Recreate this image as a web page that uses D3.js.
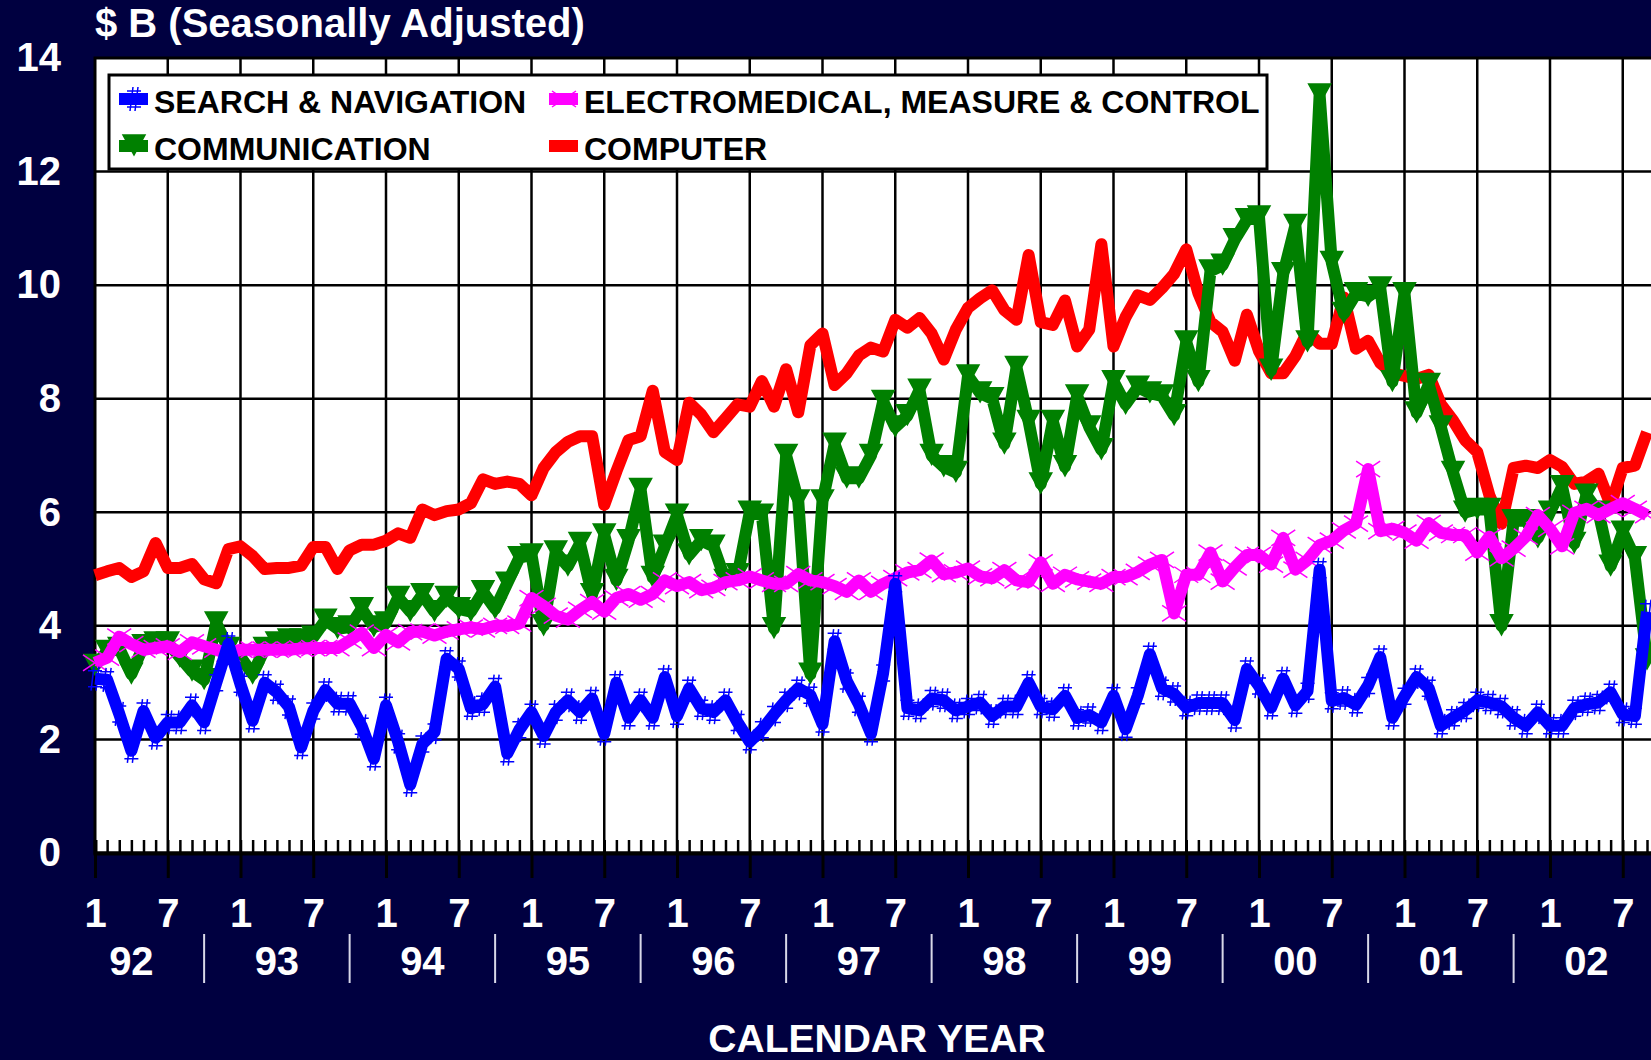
<!DOCTYPE html>
<html>
<head>
<meta charset="utf-8">
<script src="https://cdn.jsdelivr.net/npm/d3@7/dist/d3.min.js"></script>
<style>
    body { margin: 0; background: #000040; overflow: hidden; }
    text { font-family: "Liberation Sans", Arial, sans-serif; font-weight: bold; }
</style>
</head>
<body>
<div class="vis-chart"></div>
<script>
// monthly values, Jan 1992 .. Sep 2002 ($ B)
const searchNav = [3.07, 3.05, 2.45, 1.8, 2.5, 2.03, 2.3, 2.3, 2.6, 2.3, 3.0, 3.68, 2.97, 2.33, 3.0, 2.83, 2.57, 1.86, 2.5, 2.87, 2.63, 2.63, 2.23, 1.66, 2.6, 1.96, 1.2,
    1.92, 2.13, 3.42, 3.24, 2.55, 2.62, 2.93, 1.75, 2.17, 2.48, 2.06, 2.48, 2.69, 2.48, 2.72, 2.1, 3.0, 2.38, 2.69, 2.38, 3.1, 2.41, 2.9, 2.55, 2.48, 2.69, 2.3,
    1.96, 2.17, 2.44, 2.69, 2.9, 2.78, 2.27, 3.73, 3.03, 2.62, 2.1, 3.17, 4.74, 2.55, 2.51, 2.72, 2.69, 2.51, 2.58, 2.65, 2.41, 2.58, 2.58, 3.0, 2.58, 2.53,
    2.77, 2.38, 2.43, 2.3, 2.77, 2.18, 2.77, 3.5, 2.9, 2.8, 2.56, 2.64, 2.64, 2.64, 2.34, 3.24, 2.94, 2.56, 3.07, 2.6, 2.85, 4.99, 2.68, 2.73, 2.61, 2.95,
    3.45, 2.38, 2.76, 3.1, 2.9, 2.24, 2.38, 2.51, 2.69, 2.65, 2.58, 2.38, 2.24, 2.48, 2.24, 2.24, 2.55, 2.62, 2.65, 2.83, 2.44, 2.41, 4.25]
const electroMed = [3.35, 3.44, 3.81, 3.68, 3.58, 3.61, 3.64, 3.54, 3.71, 3.64, 3.58, 3.51, 3.58, 3.58, 3.58, 3.58, 3.58, 3.6, 3.61, 3.61, 3.61, 3.74, 3.88, 3.61, 3.84, 3.71, 3.89,
    3.9, 3.83, 3.9, 3.94, 3.97, 3.94, 4.0, 4.0, 4.04, 4.49, 4.35, 4.18, 4.11, 4.28, 4.42, 4.25, 4.49, 4.56, 4.46, 4.56, 4.8, 4.7, 4.77, 4.63, 4.67, 4.77, 4.8,
    4.87, 4.8, 4.74, 4.74, 4.91, 4.8, 4.77, 4.7, 4.6, 4.8, 4.6, 4.74, 4.84, 4.94, 4.98, 5.15, 4.91, 4.94, 5.01, 4.87, 4.84, 4.98, 4.8, 4.77, 5.12, 4.74,
    4.9, 4.82, 4.78, 4.74, 4.86, 4.86, 4.95, 5.08, 5.16, 4.22, 4.9, 4.9, 5.29, 4.78, 5.03, 5.25, 5.25, 5.08, 5.55, 4.99, 5.16, 5.42, 5.5, 5.68, 5.8, 6.76,
    5.67, 5.71, 5.64, 5.5, 5.81, 5.64, 5.6, 5.6, 5.29, 5.57, 5.19, 5.36, 5.57, 5.95, 5.71, 5.4, 5.99, 6.06, 5.95, 6.06, 6.16, 6.06, 5.95]
const communication = [3.3, 3.55, 3.6, 3.15, 3.65, 3.7, 3.7, 3.45, 3.2, 3.05, 4.05, 3.6, 3.45, 3.15, 3.6, 3.7, 3.75, 3.75, 3.8, 4.1, 3.95, 3.98, 4.3, 3.98, 4.05, 4.5, 4.25,
    4.55, 4.25, 4.5, 4.3, 4.25, 4.6, 4.3, 4.75, 5.2, 5.25, 4.0, 5.3, 5.05, 5.45, 4.55, 5.6, 4.8, 5.5, 6.4, 4.85, 5.4, 5.95, 5.25, 5.5, 5.4, 4.8, 4.9,
    6.0, 5.95, 3.95, 7.0, 6.2, 3.15, 6.2, 7.2, 6.6, 6.6, 7.0, 7.95, 7.5, 7.7, 8.15, 7.0, 6.8, 6.7, 8.4, 8.1, 8.0, 7.2, 8.55, 7.6, 6.5, 7.6,
    6.8, 8.05, 7.5, 7.1, 8.3, 7.9, 8.2, 8.1, 8.05, 7.7, 9.0, 8.3, 10.25, 10.35, 10.8, 11.15, 11.2, 8.5, 10.2, 11.05, 9.0, 13.35, 10.4, 9.5, 9.85, 9.8,
    9.95, 8.3, 9.85, 7.75, 8.25, 7.5, 6.7, 6.0, 6.05, 6.05, 4.0, 5.85, 5.85, 5.55, 6.0, 6.45, 5.45, 6.3, 6.0, 5.05, 5.65, 5.2, 3.4]
const computer = [4.89, 4.96, 5.02, 4.86, 4.96, 5.46, 5.02, 5.02, 5.09, 4.82, 4.75, 5.35, 5.4, 5.23, 5.0, 5.02, 5.02, 5.06, 5.39, 5.39, 5.0, 5.33, 5.43, 5.43, 5.5, 5.63, 5.55,
    6.05, 5.95, 6.02, 6.05, 6.16, 6.58, 6.5, 6.54, 6.5, 6.3, 6.78, 7.06, 7.24, 7.34, 7.34, 6.13, 6.72, 7.27, 7.34, 8.14, 7.06, 6.92, 7.93, 7.72, 7.41, 7.65, 7.9,
    7.86, 8.31, 7.86, 8.52, 7.76, 8.94, 9.15, 8.24, 8.45, 8.76, 8.9, 8.83, 9.39, 9.25, 9.42, 9.15, 8.69, 9.22, 9.6, 9.77, 9.91, 9.56, 9.39, 10.53, 9.35, 9.3,
    9.73, 8.92, 9.22, 10.72, 8.92, 9.44, 9.82, 9.74, 9.95, 10.2, 10.63, 9.86, 9.35, 9.18, 8.67, 9.48, 8.84, 8.45, 8.45, 8.75, 9.18, 8.97, 8.97, 9.78, 8.88, 9.02,
    8.63, 8.45, 8.4, 8.35, 8.42, 7.9, 7.62, 7.27, 7.06, 6.3, 5.8, 6.78, 6.82, 6.78, 6.92, 6.8, 6.5, 6.54, 6.68, 6.13, 6.78, 6.82, 7.41]

const yearLabels = ['92', '93', '94', '95', '96', '97', '98', '99', '00', '01', '02']
const monthLabels = ['1', '7']
const yTicks = [0, 2, 4, 6, 8, 10, 12, 14]
const seriesNames = ['SEARCH & NAVIGATION', 'ELECTROMEDICAL, MEASURE & CONTROL', 'COMMUNICATION', 'COMPUTER']

const dimensions = {
    width: 1651,
    height: 1060,
    left: 95,
    top: 58,
    bottom: 853,
    monthWidth: 12.125
}

const series = [
    { name: seriesNames[3], values: computer, color: '#ff0000', marker: 'none' },
    { name: seriesNames[2], values: communication, color: '#008000', marker: 'tri' },
    { name: seriesNames[1], values: electroMed, color: '#ff00ff', marker: 'x' },
    { name: seriesNames[0], values: searchNav, color: '#0000ff', marker: 'hash' }
]

let visChart = d3.select('.vis-chart').append('svg')
    .attr('width', dimensions.width)
    .attr('height', dimensions.height)
    .style('background-color', '#000040')
    .style('display', 'block')

let xScale = d3.scaleLinear()
    .domain([0, 130])
    .range([dimensions.left, dimensions.left + 130 * dimensions.monthWidth])
let yScale = d3.scaleLinear()
    .domain([0, 14])
    .range([dimensions.bottom, dimensions.top])

drawFrame()
drawAxis()
drawPlot()
drawLegend()
addTexts()

/******** plot area + grid ********/
function drawFrame() {
    visChart.append('rect')
        .attr('x', xScale(0))
        .attr('y', yScale(14))
        .attr('width', xScale(130) - xScale(0))
        .attr('height', yScale(0) - yScale(14))
        .attr('fill', '#ffffff')
        .attr('stroke', '#000')
        .attr('stroke-width', 3)

    visChart.append('g').selectAll('line')
        .data(yTicks.filter(d => d > 0 && d < 14))
        .enter().append('line')
        .attr('x1', xScale(0)).attr('x2', xScale(130))
        .attr('y1', d => yScale(d)).attr('y2', d => yScale(d))
        .attr('stroke', '#000').attr('stroke-width', 2.5)

    visChart.append('g').selectAll('line')
        .data(d3.range(6, 130, 6))
        .enter().append('line')
        .attr('x1', d => xScale(d)).attr('x2', d => xScale(d))
        .attr('y1', yScale(14)).attr('y2', yScale(0))
        .attr('stroke', '#000').attr('stroke-width', 2.5)
}

/******** axes ********/
function drawAxis() {
    let minorAxis = d3.axisTop(xScale)
        .tickValues(d3.range(0, 130))
        .tickSize(13)
        .tickFormat('')
    visChart.append('g')
        .attr('transform', 'translate(0,' + dimensions.bottom + ')')
        .call(minorAxis)
        .call(g => g.select('.domain').attr('stroke-width', 4))
        .call(g => g.selectAll('.tick line').attr('stroke', '#000').attr('stroke-width', 2.5))

    let majorAxis = d3.axisBottom(xScale)
        .tickValues(d3.range(0, 130, 6))
        .tickSize(25)
        .tickPadding(21)
        .tickFormat((d, i) => monthLabels[i % 2])
    visChart.append('g')
        .attr('transform', 'translate(0,' + dimensions.bottom + ')')
        .call(majorAxis)
        .call(g => g.select('.domain').remove())
        .call(g => g.selectAll('.tick line').attr('stroke', '#000').attr('stroke-width', 3))
        .call(g => g.selectAll('.tick text').attr('fill', '#fff').style('font-size', '40px')
            .style('font-family', '"Liberation Sans", Arial, sans-serif').style('font-weight', 'bold'))

    let yAxis = d3.axisLeft(yScale)
        .tickValues(yTicks)
        .tickSize(0)
        .tickPadding(34)
    visChart.append('g')
        .attr('transform', 'translate(' + dimensions.left + ',0)')
        .call(yAxis)
        .call(g => g.select('.domain').remove())
        .call(g => g.selectAll('.tick text').attr('fill', '#fff').style('font-size', '40px')
            .style('font-family', '"Liberation Sans", Arial, sans-serif').style('font-weight', 'bold'))

    // year row
    visChart.append('g').selectAll('text')
        .data(yearLabels)
        .enter().append('text')
        .attr('x', (d, i) => xScale(i * 12 + 3))
        .attr('y', 975)
        .attr('text-anchor', 'middle')
        .attr('fill', '#fff')
        .style('font-size', '40px')
        .text(d => d)

    visChart.append('g').selectAll('line')
        .data(d3.range(1, yearLabels.length))
        .enter().append('line')
        .attr('x1', d => xScale(d * 12 - 3)).attr('x2', d => xScale(d * 12 - 3))
        .attr('y1', 934).attr('y2', 983)
        .attr('stroke', '#d8d8e8').attr('stroke-width', 2)
}

/******** markers ********/
function markerPath(type) {
    if (type === 'tri') return 'M-11,-11L11,-11L0,9Z'
    if (type === 'x') return 'M-12,-8L12,8M-12,8L12,-8'
    if (type === 'hash') return 'M-7,-8L7,-8M-7,8L7,8M-4,12L-1,-12M1,12L4,-12'
    return ''
}

/******** lines ********/
function drawPlot() {
    let line = d3.line()
        .x((d, i) => xScale(i))
        .y(d => yScale(d))

    series.forEach(s => {
        let g = visChart.append('g')
        g.append('path')
            .datum(s.values)
            .attr('d', line)
            .attr('fill', 'none')
            .attr('stroke', s.color)
            .attr('stroke-width', 12)
            .attr('stroke-linejoin', 'round')

        if (s.marker !== 'none') {
            g.selectAll('path.mk')
                .data(s.values)
                .enter().append('path')
                .attr('class', 'mk')
                .attr('transform', (d, i) => 'translate(' + xScale(i) + ',' + yScale(d) + ')')
                .attr('d', markerPath(s.marker))
                .attr('fill', s.marker === 'tri' ? s.color : 'none')
                .attr('stroke', s.color)
                .attr('stroke-width', 1.5)
        }
    })
}

/******** legend ********/
function drawLegend() {
    let legend = visChart.append('g')
    legend.append('rect')
        .attr('x', 109).attr('y', 75)
        .attr('width', 1158).attr('height', 94)
        .attr('fill', '#fff')
        .attr('stroke', '#000')
        .attr('stroke-width', 3)

    let items = [
        { s: series[3], x: 119, y: 99 },
        { s: series[2], x: 549, y: 99 },
        { s: series[1], x: 119, y: 146 },
        { s: series[0], x: 549, y: 146 }
    ]
    items.forEach(it => {
        legend.append('line')
            .attr('x1', it.x).attr('x2', it.x + 29)
            .attr('y1', it.y).attr('y2', it.y)
            .attr('stroke', it.s.color).attr('stroke-width', 12)
        if (it.s.marker !== 'none') {
            legend.append('path')
                .attr('transform', 'translate(' + (it.x + 15) + ',' + it.y + ')')
                .attr('d', markerPath(it.s.marker))
                .attr('fill', it.s.marker === 'tri' ? it.s.color : 'none')
                .attr('stroke', it.s.color)
                .attr('stroke-width', 1.5)
        }
        legend.append('text')
            .attr('x', it.x + 35)
            .attr('y', it.y + 14)
            .attr('fill', '#000')
            .style('font-size', '32px')
            .text(it.s.name)
    })
}

/******** titles ********/
function addTexts() {
    visChart.append('text')
        .attr('x', 95).attr('y', 37)
        .attr('fill', '#fff')
        .style('font-size', '40px')
        .text('$ B (Seasonally Adjusted)')

    visChart.append('text')
        .attr('x', 877).attr('y', 1052)
        .attr('text-anchor', 'middle')
        .attr('fill', '#fff')
        .style('font-size', '39px')
        .text('CALENDAR YEAR')
}
</script>
</body>
</html>
